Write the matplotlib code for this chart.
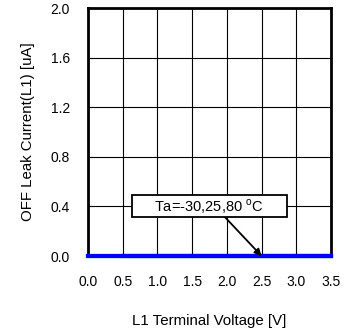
import matplotlib
matplotlib.use("Agg")
import matplotlib.pyplot as plt
from matplotlib.patches import Rectangle

plt.rcParams["font.family"] = ["Liberation Sans", "DejaVu Sans"]

# L1 terminal voltage sweep [V] and off leak current [uA] per ambient temperature
voltage = [0.0, 0.5, 1.0, 1.5, 2.0, 2.5, 3.0, 3.5]
leak_m30 = [0.0, 0.0, 0.0, 0.0, 0.0, 0.0, 0.0, 0.0]
leak_25 = [0.0, 0.0, 0.0, 0.0, 0.0, 0.0, 0.0, 0.0]
leak_80 = [0.0, 0.0, 0.0, 0.0, 0.0, 0.0, 0.0, 0.0]

x_ticks = [0.0, 0.5, 1.0, 1.5, 2.0, 2.5, 3.0, 3.5]
y_ticks = [0.0, 0.4, 0.8, 1.2, 1.6, 2.0]
label_text = "Ta=-30,25,80 $^{\\mathregular{o}}$C"

fig = plt.figure(figsize=(3.47, 3.34), dpi=100)
ax = fig.add_axes([88 / 347, 1 - 256 / 334, 243 / 347, 248 / 334])

ax.plot(voltage, leak_m30, color="#00e0e0", lw=3, clip_on=False, zorder=3)
ax.plot(voltage, leak_25, color="#0000ff", lw=3, clip_on=False, zorder=3)
ax.plot(voltage[1:], leak_80[1:], color="#0000ff", lw=3, clip_on=False, zorder=4)

ax.set_xlim(0, 3.5)
ax.set_ylim(0, 2.0)
ax.set_xticks(x_ticks)
ax.set_yticks(y_ticks)
ax.set_xticklabels([f"{v:.1f}" for v in x_ticks])
ax.set_yticklabels([f"{v:.1f}" for v in y_ticks])
ax.grid(True, color="black", lw=0.8)
ax.tick_params(direction="in", length=3, width=0.8, labelsize=10, pad=14)
ax.tick_params(axis="y", pad=13)
for s in ax.spines.values():
    s.set_linewidth(2)

ax.set_xlabel("L1 Terminal Voltage [V]", fontsize=10.8, labelpad=17.5)
ax.set_ylabel("OFF Leak Current(L1) [uA]", fontsize=10.8, labelpad=11.5)

# label box with arrow pointing at the curves
ax.add_patch(Rectangle((0.634, 0.315), 2.232, 0.177, fc="white", ec="black",
                       lw=1.3, zorder=6))
ax.text(1.74, 0.40, label_text, ha="center", va="center", fontsize=10.5, zorder=7)
ax.annotate("", xy=(2.5, 0.0), xytext=(1.97, 0.315),
            arrowprops=dict(arrowstyle="-|>", color="black", lw=1.3,
                            mutation_scale=10, shrinkA=0, shrinkB=0), zorder=5)

fig.savefig("out.png", dpi=100)
